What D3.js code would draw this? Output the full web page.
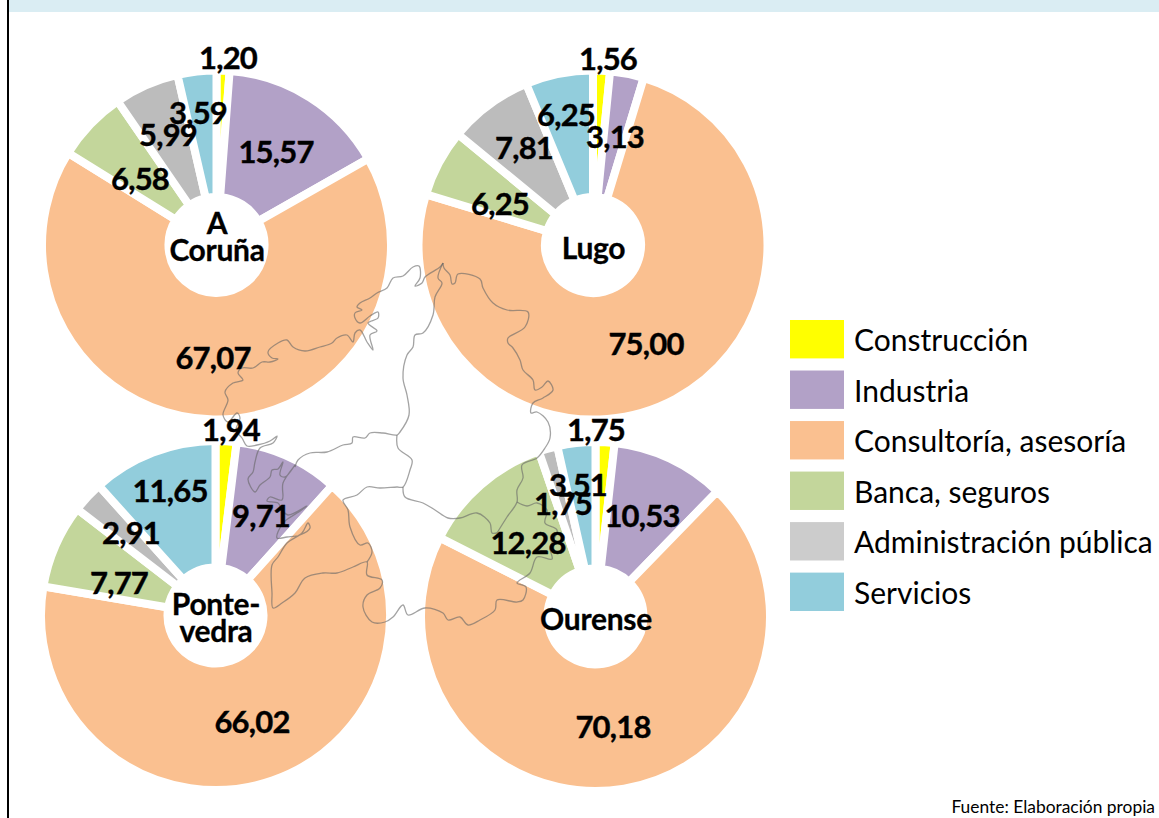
<!DOCTYPE html>
<html lang="es">
<head>
  <meta charset="UTF-8">
  <title>Sectores por provincia</title>
  <script src="https://d3js.org/d3.v7.min.js"></script>
  <style>
    html, body { margin: 0; padding: 0; background: #fff; }
    svg { display: block; }
    text { font-family: Lato, "Open Sans", sans-serif; fill: #000; }
    .value { font-size: 31px; font-weight: 700; letter-spacing: -0.8px; text-anchor: middle; dominant-baseline: central; stroke: #000; stroke-width: 0.4px; }
    .name { font-size: 30px; font-weight: 700; letter-spacing: -0.3px; text-anchor: middle; dominant-baseline: central; stroke: #000; stroke-width: 0.3px; }
    .legend-label { font-size: 30px; dominant-baseline: central; }
    .source { font-size: 17.4px; text-anchor: end; }
    .map { fill: none; stroke: #666; stroke-opacity: 0.6; stroke-width: 1.3; }
  </style>
</head>
<body>
  <svg id="chart" width="1159" height="818"></svg>

  <script>
    // datos
    const sectors = ["Construcción", "Industria", "Consultoría, asesoría", "Banca, seguros", "Administración pública", "Servicios"];
    const sectorColors = ["#ffff00", "#b2a1c7", "#fac090", "#c3d69b", "#bcbcbc", "#92cddc"];
    const legendColors = ["#ffff00", "#b2a1c7", "#fac090", "#c3d69b", "#cccccc", "#92cddc"];
    const coruna = [1.20, 15.57, 67.07, 6.58, 5.99, 3.59];
    const lugo = [1.56, 3.13, 75.00, 6.25, 7.81, 6.25];
    const pontevedra = [1.94, 9.71, 66.02, 7.77, 2.91, 11.65];
    const ourense = [1.75, 10.53, 70.18, 12.28, 1.75, 3.51];

    // layout de cada anillo; etiquetas colocadas a mano como en el original
    const pies = [
      { values: coruna, cx: 216.5, cy: 245, name: ["A", "Coruña"], nameY: [222, 249],
        labels: [[228, 57], [276, 151], [213, 357], [140, 178], [168, 134], [198, 112]] },
      { values: lugo, cx: 593, cy: 245, name: ["Lugo"], nameY: [247],
        labels: [[608, 58], [615, 136], [646, 343], [500, 203], [524, 147], [566, 114]] },
      { values: pontevedra, cx: 215.5, cy: 615.5, name: ["Ponte-", "vedra"], nameY: [603, 630],
        labels: [[231, 429], [261, 515], [252, 721], [119, 582], [131, 532], [170, 490]] },
      { values: ourense, cx: 595.5, cy: 616.5, name: ["Ourense"], nameY: [618],
        labels: [[596, 429], [642, 515], [613, 726], [528, 542], [563, 503], [578, 484]] }
    ];

    // contorno de Galicia, calcado del fondo
    const mapLines = [
      [[443,263],[440,267],[425,277],[422,283],[415,286],[420,278],[419,266],[413,267],[403,276],[393,278],[387,288],[377,293],[370,298],[360,303],[357,307],[362,310],[355,313],[355,318],[360,323],[370,316],[378,312],[378,318],[368,323],[377,331],[370,335],[373,350],[367,342],[360,330],[355,333],[353,342],[347,335],[337,338],[332,343],[320,347],[305,351],[293,347],[287,340],[278,343],[268,352],[272,358],[278,359],[270,362],[262,362],[253,368],[242,368],[238,373],[243,380],[233,383],[225,392],[228,400],[223,415],[228,422],[237,413],[240,418],[236,430],[242,438],[247,446],[257,445],[270,441],[277,436],[273,443],[260,448],[255,462],[253,472],[248,479],[255,492],[260,485],[270,477],[272,470],[278,469],[283,462],[280,475],[285,477],[295,465],[283,483],[282,500],[270,497],[267,501],[278,503],[282,510],[288,515],[307,506],[297,513],[283,523],[277,538],[287,537],[300,535],[310,528],[308,523],[302,533],[287,543],[278,557],[272,565],[272,593],[273,608],[282,603],[295,593],[305,578],[323,573],[337,573],[353,567],[367,562],[367,575],[382,580],[380,588],[367,595],[363,607],[372,622],[385,622],[393,617],[403,605],[408,615],[425,608],[443,613],[448,620],[460,617],[468,625],[480,620],[495,610],[497,600],[517,602],[523,600],[526,587],[517,583],[530,573],[537,557],[552,559],[550,548],[557,530],[545,523],[547,510],[537,503],[527,506],[517,502]],
      [[443,263],[444,268],[450,275],[452,284],[455,283],[458,274],[480,279],[483,288],[493,303],[507,310],[528,312],[525,327],[508,338],[508,343],[513,348],[520,360],[523,370],[533,380],[535,390],[542,387],[548,381],[553,390],[543,398],[533,403],[531,413],[537,412],[548,422],[550,438],[545,448],[537,458],[522,465],[523,478],[517,490],[517,502],[507,517],[497,533]],
      [[443,263],[438,278],[442,283],[435,297],[433,315],[423,333],[415,335],[413,347],[407,355],[403,378],[407,395],[409,415],[400,432],[397,435],[383,433],[370,433],[365,438],[353,437],[352,443],[343,445],[327,452],[310,453],[298,460],[295,467]],
      [[397,435],[398,448],[412,460],[410,470],[403,487],[397,487],[380,488],[367,487],[357,495],[343,500],[348,510],[350,527],[360,545],[368,543],[372,552],[367,562]],
      [[403,487],[405,497],[423,503],[435,510],[448,518],[460,518],[477,513],[490,523],[492,533],[497,533]]
    ];

    const svg = d3.select("#chart");

    // banda superior y borde izquierdo
    svg.append("rect").attr("x", 8).attr("y", 0).attr("width", 1151).attr("height", 12).attr("fill", "#daedf3");
    svg.append("line").attr("x1", 8).attr("x2", 8).attr("y1", 0).attr("y2", 818)
      .attr("stroke", "#000").attr("stroke-width", 2);

    const color = d3.scaleOrdinal().domain(sectors).range(sectorColors);
    const pie = d3.pie().sort(null).value(d => d.value);
    const arc = d3.arc().innerRadius(48).outerRadius(174.5);

    pies.forEach(p => {
      const rows = sectors.map((s, i) => ({ sector: s, value: p.values[i] }));
      svg.append("g")
        .attr("transform", `translate(${p.cx},${p.cy})`)
        .selectAll("path")
        .data(pie(rows))
        .enter().append("path")
        .attr("d", arc)
        .attr("fill", d => color(d.data.sector))
        .attr("stroke", "#fff")
        .attr("stroke-width", 8);
    });

    const line = d3.line().curve(d3.curveCatmullRom.alpha(0.5));
    svg.append("g").selectAll("path")
      .data(mapLines)
      .enter().append("path")
      .attr("class", "map")
      .attr("d", line);

    pies.forEach(p => {
      svg.append("g").selectAll("text")
        .data(p.values)
        .enter().append("text")
        .attr("class", "value")
        .attr("x", (d, i) => p.labels[i][0])
        .attr("y", (d, i) => p.labels[i][1])
        .text(d => d.toFixed(2).replace(".", ","));

      svg.append("g").selectAll("text")
        .data(p.name)
        .enter().append("text")
        .attr("class", "name")
        .attr("x", p.cx + 0.5)
        .attr("y", (d, i) => p.nameY[i])
        .text(d => d);
    });

    // leyenda
    const legendY = d3.scaleBand().domain(sectors).range([320, 611]).paddingInner(0.24);
    const legend = svg.append("g").selectAll("g")
      .data(sectors)
      .enter().append("g")
      .attr("transform", d => `translate(790,${legendY(d)})`);
    legend.append("rect")
      .attr("width", 54)
      .attr("height", legendY.bandwidth())
      .attr("fill", (d, i) => legendColors[i]);
    legend.append("text")
      .attr("class", "legend-label")
      .attr("x", 64)
      .attr("y", legendY.bandwidth() / 2)
      .text(d => d);

    svg.append("text").attr("class", "source").attr("x", 1155).attr("y", 813).text("Fuente: Elaboración propia");
  </script>
</body>
</html>
